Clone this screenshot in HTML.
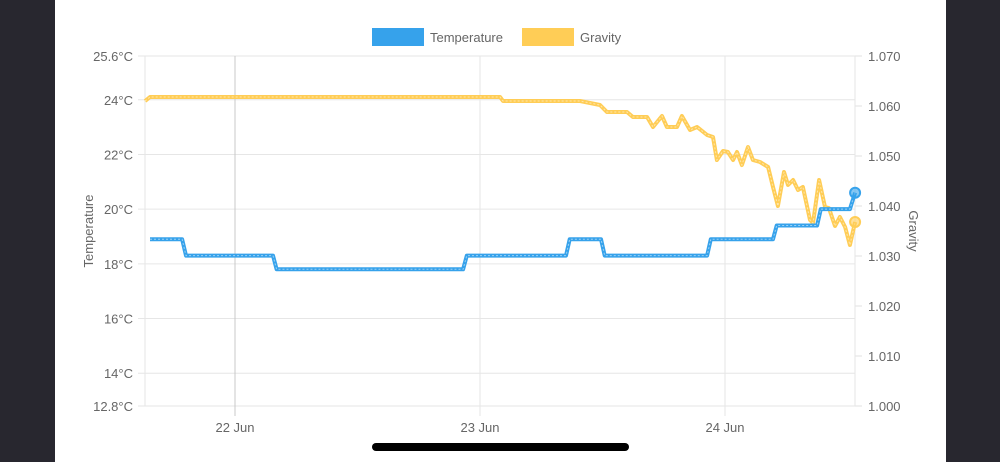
<!DOCTYPE html>
<html><head><meta charset="utf-8"><style>
html,body{margin:0;padding:0;background:#28272f;width:1000px;height:462px;overflow:hidden;font-family:"Liberation Sans",sans-serif}
#card{position:absolute;left:55px;top:0;width:891px;height:462px;background:#fff}
svg{position:absolute;left:0;top:0}
</style></head><body>
<div id="card"></div>
<svg id="chart" width="1000" height="462"></svg>
<div style="position:absolute;left:372px;top:443px;width:257px;height:8px;border-radius:4px;background:#000"></div>
<script>
// days relative to 22 Jun 00:00
const tempTimes=[-0.347,-0.216,-0.200,0.155,0.170,0.931,0.946,1.351,1.366,1.494,1.509,1.927,1.942,2.196,2.211,2.376,2.391,2.510,2.531];
const tempValues=[18.9,18.9,18.3,18.3,17.8,17.8,18.3,18.3,18.9,18.9,18.3,18.3,18.9,18.9,19.4,19.4,20.0,20.0,20.6];
const gravTimes=[-0.367,-0.347,1.082,1.094,1.408,1.490,1.518,1.600,1.624,1.682,1.706,1.743,1.763,1.804,1.824,1.857,1.886,1.927,1.951,1.967,1.992,2.012,2.033,2.049,2.069,2.094,2.114,2.143,2.176,2.196,2.216,2.241,2.257,2.278,2.298,2.318,2.347,2.359,2.384,2.408,2.424,2.449,2.469,2.490,2.510,2.531];
const gravValues=[1.061,1.0618,1.0618,1.061,1.061,1.0602,1.0588,1.0588,1.0578,1.0578,1.0558,1.058,1.0558,1.0558,1.058,1.0552,1.0558,1.0542,1.0538,1.0492,1.051,1.0508,1.0492,1.0508,1.0482,1.0518,1.0492,1.0488,1.0478,1.0438,1.040,1.0468,1.0442,1.0452,1.0432,1.0438,1.0372,1.0366,1.0452,1.0398,1.0396,1.036,1.0378,1.0358,1.0322,1.0368];
const tempTicks=[12.8,14,16,18,20,22,24,25.6];
const tempTickLabels=["12.8°C","14°C","16°C","18°C","20°C","22°C","24°C","25.6°C"];
const gravTicks=[1.000,1.010,1.020,1.030,1.040,1.050,1.060,1.070];
const gravTickLabels=["1.000","1.010","1.020","1.030","1.040","1.050","1.060","1.070"];
const dayTicks=[0,1,2];
const dayTickLabels=["22 Jun","23 Jun","24 Jun"];

const L=145,R=855,T=56,B=406;
const x=d=>235+d*245;
const yT=v=>B-(v-12.8)/(25.6-12.8)*(B-T);
const yG=v=>B-(v-1.0)/(0.07)*(B-T);
const svg=document.getElementById('chart');
const NS='http://www.w3.org/2000/svg';
function mk(tag,attrs,parent){const e=document.createElementNS(NS,tag);for(const k in attrs)e.setAttribute(k,attrs[k]);(parent||svg).appendChild(e);return e;}

// grid + left ticks
tempTicks.forEach((t,i)=>{
  const g=mk('line',{x1:138,x2:R,y1:yT(t),y2:yT(t),stroke:'#e6e6e6','stroke-width':1});
  
  
  const tx=mk('text',{x:133,y:yT(t)+5,'text-anchor':'end','font-size':13,fill:'#666'});
  tx.textContent=tempTickLabels[i];
  
  
});
gravTicks.forEach((t,i)=>{
  const tk=mk('line',{x1:R,x2:862,y1:yG(t),y2:yG(t),stroke:'#e0e0e0','stroke-width':1});
  
  
  const tx=mk('text',{x:868,y:yG(t)+5,'font-size':13,fill:'#666'});
  tx.textContent=gravTickLabels[i];
  
  
});
dayTicks.forEach((d,i)=>{
  const g=mk('line',{x1:x(d),x2:x(d),y1:T,y2:416,stroke:i==0?'#c8c8c8':'#e6e6e6','stroke-width':1});
  
  
  const tx=mk('text',{x:x(d),y:432,'text-anchor':'middle','font-size':13,fill:'#666'});
  tx.textContent=dayTickLabels[i];
  
  
});
[L,R].forEach(xx=>{const b=mk('line',{x1:xx,x2:xx,y1:T,y2:B,stroke:'#e6e6e6','stroke-width':1});
  
  });

// axis titles
const lt=mk('text',{x:0,y:0,transform:'translate(93,231) rotate(-90)','text-anchor':'middle','font-size':13,fill:'#666'});
lt.textContent='Temperature';


const rt=mk('text',{x:0,y:0,transform:'translate(909,231) rotate(90)','text-anchor':'middle','font-size':13,fill:'#666'});
rt.textContent='Gravity';



function series(times,vals,yf,color,name){
  const pts=times.map((t,i)=>x(t).toFixed(1)+','+yf(vals[i]).toFixed(1)).join(' ');
  const p=mk('polyline',{points:pts,fill:'none',stroke:color,'stroke-width':4,'stroke-linejoin':'round'});
  
  
  const d=mk('polyline',{points:pts,fill:'none',stroke:'#fff','stroke-opacity':0.5,'stroke-width':1,'stroke-dasharray':'2 2'});
  
  
  const n=times.length-1;
  const c=mk('circle',{cx:x(times[n]),cy:yf(vals[n]),r:5,fill:color,'fill-opacity':0.6,stroke:color,'stroke-width':2});
  
  
}
series(gravTimes,gravValues,yG,'#ffcd56','gravity');
series(tempTimes,tempValues,yT,'#36a2eb','temperature');

// legend
const lb=mk('rect',{x:372,y:28,width:52,height:18,fill:'#36a2eb'});


const l1=mk('text',{x:430,y:42,'font-size':13,fill:'#666'});l1.textContent='Temperature';


const lb2=mk('rect',{x:522,y:28,width:52,height:18,fill:'#ffcd56'});


const l2=mk('text',{x:580,y:42,'font-size':13,fill:'#666'});l2.textContent='Gravity';


</script>
</body></html>
